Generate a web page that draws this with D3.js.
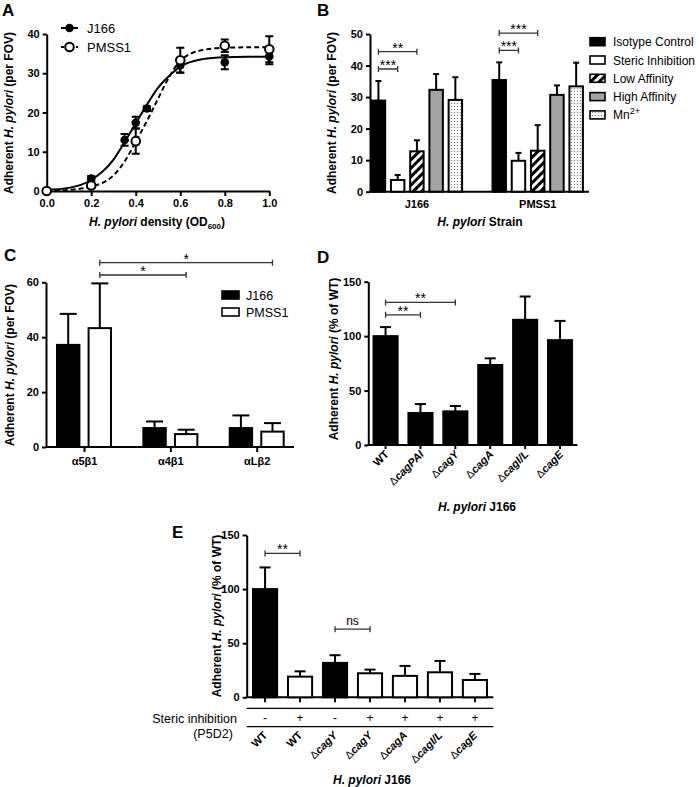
<!DOCTYPE html>
<html>
<head>
<meta charset="utf-8">
<script src="https://cdn.jsdelivr.net/npm/d3@7"></script>
<style>
  body { margin: 0; background: #fff; }
  svg { display: block; }
</style>
</head>
<body>
<svg id="fig" width="700" height="787"></svg>
<script>
// ---- panel A: adherence vs density
var odJ166 = [0, 0.2, 0.35, 0.4, 0.45, 0.6, 0.8, 1.0];
var j166Mean = [0, 3.2, 13, 17.4, 21, 32, 32.8, 34.3];
var j166Err = [0.3, 0.6, 1.5, 1.5, 0.6, 1.8, 1.8, 2];
var odPmss = [0, 0.2, 0.4, 0.6, 0.8, 1.0];
var pmssMean = [0, 1.4, 12.7, 33.3, 37, 36.1];
var pmssErr = [0.2, 0.5, 3.2, 3.2, 1.6, 3.3];
// fitted curves
var fitX = [0, 0.1, 0.2, 0.3, 0.35, 0.4, 0.45, 0.5, 0.55, 0.6, 0.7, 0.8, 0.9, 1.0];
var j166Fit = [0.3, 0.8, 2.8, 8, 12.5, 17.2, 22, 26.3, 29.3, 31.7, 33.6, 34.1, 34.2, 34.2];
var pmssFit = [0.1, 0.3, 1.1, 4, 7.5, 12.6, 17.8, 23.5, 29, 33.2, 35.9, 36.5, 36.6, 36.6];
var aTicks = [0, 0.2, 0.4, 0.6, 0.8, 1.0];

// ---- panel B: antibody treatments
var strains = ["J166", "PMSS1"];
var treatments = ["Isotype Control", "Steric Inhibition", "Low Affinity", "High Affinity", "Mn2+"];
var bJ166Mean = [28.9, 3.7, 12.8, 32.3, 29.1];
var bJ166Err = [6.2, 1.6, 3.5, 5.0, 7.2];
var bPmssMean = [35.4, 9.8, 13.0, 30.7, 33.4];
var bPmssErr = [5.6, 2.5, 8.1, 3.0, 7.5];
var bSigJ166 = [[0, 1, "***"], [0, 2, "**"]];
var bSigPmss = [[0, 1, "***"], [0, 2, "***"]];

// ---- panel C: integrins
var integrins = ["\u03b15\u03b21", "\u03b14\u03b21", "\u03b1L\u03b22"];
var cJ166Mean = [37.2, 6.9, 6.9];
var cJ166Err = [11.3, 2.4, 4.6];
var cPmssMean = [43.3, 4.7, 5.6];
var cPmssErr = [16.3, 1.6, 3.1];
var cSig = [[0, 1, "*"], [0, 2, "*"]]; // between PMSS1 bars

// ---- panel D: cag mutants
var dGenes = ["WT", "cagPAI", "cagY", "cagA", "cagI/L", "cagE"];
var dMean = [100, 29.4, 30.9, 73.5, 115, 96.3];
var dErr = [8.3, 8.2, 4.9, 6.1, 21.4, 17.7];
var dSig = [[0, 1, "**"], [0, 2, "**"]];

// ---- panel E: steric inhibition of mutants
var eGenes = ["WT", "WT", "cagY", "cagY", "cagA", "cagI/L", "cagE"];
var eSteric = ["-", "+", "-", "+", "+", "+", "+"];
var eMean = [100, 19.1, 31.8, 22.2, 19.8, 23.1, 16.0];
var eErr = [20, 4.9, 7.1, 3.4, 9.2, 10.5, 5.6];
var eSig = [[0, 1, "**"], [2, 3, "ns"]];

var font = "'Liberation Sans', Arial, Helvetica, sans-serif";
var svg = d3.select("#fig").style("font-family", font);

// patterns
var defs = svg.append("defs");
var hatch = defs.append("pattern").attr("id", "hatch").attr("patternUnits", "userSpaceOnUse")
  .attr("width", 6).attr("height", 6).attr("patternTransform", "rotate(45)");
hatch.append("rect").attr("width", 6).attr("height", 6).attr("fill", "#fff");
hatch.append("rect").attr("width", 3).attr("height", 6).attr("fill", "#000");
var dots = defs.append("pattern").attr("id", "dots").attr("patternUnits", "userSpaceOnUse")
  .attr("width", 3).attr("height", 3);
dots.append("rect").attr("width", 3).attr("height", 3).attr("fill", "#fbfbfb");
dots.append("circle").attr("cx", 1.5).attr("cy", 1.5).attr("r", 0.6).attr("fill", "#666");

var treatFill = ["#000", "#fff", "url(#hatch)", "#a3a3a3", "url(#dots)"];

function styleAxis(g) {
  g.attr("font-family", font).attr("font-size", 11).attr("font-weight", "bold");
  g.select(".domain").attr("stroke", "#000").attr("stroke-width", 2);
  g.selectAll(".tick line").attr("stroke", "#000").attr("stroke-width", 2);
  g.selectAll(".tick text").attr("fill", "#000");
}

function panelLetter(x, y, s) {
  svg.append("text").attr("x", x).attr("y", y).style("font-size", "17px")
    .style("font-weight", "bold").text(s);
}

function yTitle(x, y, tail) {
  var t = svg.append("text").attr("transform", "translate(" + x + "," + y + ") rotate(-90)")
    .attr("text-anchor", "middle").style("font-size", "12px").style("font-weight", "bold");
  t.append("tspan").text("Adherent ");
  t.append("tspan").style("font-style", "italic").text("H. pylori");
  t.append("tspan").text(" " + tail);
}

function xTitle(x, y, tail, sub) {
  var t = svg.append("text").attr("x", x).attr("y", y)
    .attr("text-anchor", "middle").style("font-size", "12px").style("font-weight", "bold");
  t.append("tspan").style("font-style", "italic").text("H. pylori");
  t.append("tspan").text(" " + tail);
  if (sub) {
    t.append("tspan").attr("dy", 3).style("font-size", "8px").text(sub);
    t.append("tspan").attr("dy", -3).text(")");
  }
}

// bars with upward error bars
function drawBars(g, xs, width, ys, means, errs, fills, capW) {
  means.forEach(function(m, i) {
    var x = xs[i];
    g.append("line").attr("x1", x).attr("x2", x).attr("y1", ys(m)).attr("y2", ys(m + errs[i]))
      .attr("stroke", "#000").attr("stroke-width", 2);
    g.append("line").attr("x1", x - capW / 2).attr("x2", x + capW / 2)
      .attr("y1", ys(m + errs[i])).attr("y2", ys(m + errs[i]))
      .attr("stroke", "#000").attr("stroke-width", 2);
    g.append("rect").attr("x", x - width / 2).attr("y", ys(m))
      .attr("width", width).attr("height", ys(0) - ys(m))
      .attr("fill", fills[i]).attr("stroke", "#000").attr("stroke-width", 2);
  });
}

// significance brackets
function drawSig(g, sig, xs, tops, ys, gap, step) {
  sig.forEach(function(s, lvl) {
    var top = d3.max(tops.slice(s[0], s[1] + 1));
    var y = ys(top) - gap - lvl * step;
    var x1 = xs[s[0]], x2 = xs[s[1]];
    g.append("path").attr("d", "M" + x1 + "," + (y - 3) + "V" + (y + 3) + "M" + x1 + "," + y +
      "H" + x2 + "M" + x2 + "," + (y - 3) + "V" + (y + 3))
      .attr("fill", "none").attr("stroke", "#333").attr("stroke-width", 1.3);
    g.append("text").attr("x", (x1 + x2) / 2).attr("y", s[2] == "ns" ? y - 4 : y + 1)
      .attr("text-anchor", "middle").style("font-size", s[2] == "ns" ? "12px" : "14px")
      .text(s[2]);
  });
}

function addTops(m, e) { return m.map(function(v, i) { return v + e[i]; }); }

// ================= Panel A
(function() {
  var x = d3.scaleLinear().domain([0, 1]).range([46.7, 269.3]);
  var y = d3.scaleLinear().domain([0, 40]).range([191, 34]);
  var g = svg.append("g");
  g.append("g").attr("transform", "translate(0," + y(0) + ")")
    .call(d3.axisBottom(x).tickValues(aTicks).tickFormat(d3.format(".1f")).tickSize(5).tickSizeOuter(0))
    .call(styleAxis);
  g.append("g").attr("transform", "translate(" + x(0) + ",0)")
    .call(d3.axisLeft(y).ticks(4).tickSize(4).tickSizeOuter(0).tickPadding(3))
    .call(styleAxis);

  var line = d3.line().x(function(d) { return x(d[0]); }).y(function(d) { return y(d[1]); })
    .curve(d3.curveMonotoneX);
  g.append("path").datum(d3.zip(fitX, j166Fit)).attr("d", line)
    .attr("fill", "none").attr("stroke", "#000").attr("stroke-width", 2);
  g.append("path").datum(d3.zip(fitX, pmssFit)).attr("d", line)
    .attr("fill", "none").attr("stroke", "#000").attr("stroke-width", 2).attr("stroke-dasharray", "5,3");

  function errs(xs, ms, es) {
    xs.forEach(function(v, i) {
      var cx = x(v);
      g.append("path").attr("d", "M" + cx + "," + y(ms[i] - es[i]) + "V" + y(ms[i] + es[i]) +
        "M" + (cx - 4) + "," + y(ms[i] - es[i]) + "H" + (cx + 4) +
        "M" + (cx - 4) + "," + y(ms[i] + es[i]) + "H" + (cx + 4))
        .attr("stroke", "#000").attr("stroke-width", 2).attr("fill", "none");
    });
  }
  errs(odJ166, j166Mean, j166Err);
  errs(odPmss, pmssMean, pmssErr);
  odJ166.forEach(function(v, i) {
    g.append("circle").attr("cx", x(v)).attr("cy", y(j166Mean[i])).attr("r", 4.3).attr("fill", "#000");
  });
  odPmss.forEach(function(v, i) {
    g.append("circle").attr("cx", x(v)).attr("cy", y(pmssMean[i])).attr("r", 4.3)
      .attr("fill", "#fff").attr("stroke", "#000").attr("stroke-width", 2);
  });

  // legend
  var lg = svg.append("g");
  [["J166", null], ["PMSS1", "5,3"]].forEach(function(d, i) {
    var ly = 28 + i * 19;
    lg.append("line").attr("x1", 61).attr("x2", 78).attr("y1", ly).attr("y2", ly)
      .attr("stroke", "#000").attr("stroke-width", 2).attr("stroke-dasharray", d[1] ? "3,2" : null);
    lg.append("circle").attr("cx", 69.5).attr("cy", ly).attr("r", 4.3)
      .attr("fill", i ? "#fff" : "#000").attr("stroke", "#000").attr("stroke-width", i ? 2 : 0);
    lg.append("text").attr("x", 87).attr("y", ly + 4.5).style("font-size", "13px").text(d[0]);
  });

  panelLetter(2, 16, "A");
  yTitle(13, 113, "(per FOV)");
  xTitle(157, 226, "density (OD", "600");
})();

// ================= Panel B
(function() {
  var y = d3.scaleLinear().domain([0, 50]).range([191.7, 34]);
  var gx = d3.scalePoint().domain(strains).range([416.9, 537.7]);
  var inner = d3.scaleBand().domain(treatments).range([-45.2, 45.2]).paddingInner(0.3);
  var g = svg.append("g");
  g.append("line").attr("x1", 369).attr("x2", 589).attr("y1", y(0)).attr("y2", y(0))
    .attr("stroke", "#000").attr("stroke-width", 2);
  g.append("g").attr("transform", "translate(370,0)")
    .call(d3.axisLeft(y).ticks(5).tickSize(4).tickSizeOuter(0).tickPadding(3))
    .call(styleAxis);
  strains.forEach(function(s, si) {
    var xs = treatments.map(function(t) { return gx(s) + inner(t) + inner.bandwidth() / 2; });
    var m = si ? bPmssMean : bJ166Mean, e = si ? bPmssErr : bJ166Err;
    drawBars(g, xs, inner.bandwidth(), y, m, e, treatFill, 6);
    drawSig(g, si ? bSigPmss : bSigJ166, xs, addTops(m, e), y, 12, 17.3);
    g.append("text").attr("x", gx(s)).attr("y", 208).attr("text-anchor", "middle")
      .style("font-size", "11px").style("font-weight", "bold").text(s);
  });

  // legend
  treatments.forEach(function(t, i) {
    var ly = 41.7 + i * 18.3;
    g.append("rect").attr("x", 590).attr("y", ly - 4).attr("width", 15).attr("height", 8)
      .attr("fill", treatFill[i]).attr("stroke", "#000").attr("stroke-width", 1.6);
    var tx = g.append("text").attr("x", 613).attr("y", ly + 4.5).style("font-size", "12px");
    if (t == "Mn2+") {
      tx.append("tspan").text("Mn");
      tx.append("tspan").attr("dy", -5).style("font-size", "9px").text("2+");
    } else tx.text(t);
  });

  panelLetter(317, 16, "B");
  yTitle(336, 113, "(per FOV)");
  xTitle(480, 226, "Strain");
})();

// ================= Panel C
(function() {
  var y = d3.scaleLinear().domain([0, 60]).range([447, 282.3]);
  var gx = d3.scalePoint().domain(integrins).range([84, 256.7]);
  var inner = d3.scaleBand().domain(strains).range([-27, 27]).paddingInner(0.29);
  var g = svg.append("g");
  var xa = g.append("g").attr("transform", "translate(0," + y(0) + ")")
    .call(d3.axisBottom(gx).tickSize(5).tickSizeOuter(0).tickPadding(5));
  xa.select(".domain").attr("d", "M46,0H294");
  xa.call(styleAxis);
  g.append("g").attr("transform", "translate(46,0)")
    .call(d3.axisLeft(y).ticks(3).tickSize(4).tickSizeOuter(0).tickPadding(3))
    .call(styleAxis);
  var bw = inner.bandwidth();
  var xsJ = integrins.map(function(c) { return gx(c) + inner("J166") + bw / 2; });
  var xsP = integrins.map(function(c) { return gx(c) + inner("PMSS1") + bw / 2; });
  drawBars(g, xsJ, bw, y, cJ166Mean, cJ166Err, ["#000", "#000", "#000"], 17);
  drawBars(g, xsP, bw, y, cPmssMean, cPmssErr, ["#fff", "#fff", "#fff"], 17);
  drawSig(g, cSig, xsP, addTops(cPmssMean, cPmssErr), y, 8.4, 12.3);

  [["J166", "#000"], ["PMSS1", "#fff"]].forEach(function(d, i) {
    var ly = 295 + i * 17;
    g.append("rect").attr("x", 222).attr("y", ly - 4).attr("width", 17).attr("height", 8)
      .attr("fill", d[1]).attr("stroke", "#000").attr("stroke-width", 1.6);
    g.append("text").attr("x", 246).attr("y", ly + 4.5).style("font-size", "12.5px").text(d[0]);
  });

  panelLetter(4, 261, "C");
  yTitle(14, 365, "(per FOV)");
})();

function geneLabel(sel, gname) {
  if (gname == "WT") { sel.text("WT"); return; }
  sel.text("");
  sel.append("tspan").style("font-weight", "normal").text("\u0394");
  sel.append("tspan").style("font-style", "italic").text(gname);
}

// ================= Panel D
(function() {
  var y = d3.scaleLinear().domain([0, 150]).range([445, 281.7]);
  var x = d3.scaleBand().domain(d3.range(dGenes.length)).range([368.3, 577.3])
    .paddingInner(0.31).paddingOuter(0.15);
  var g = svg.append("g");
  var xa = g.append("g").attr("transform", "translate(0," + y(0) + ")")
    .call(d3.axisBottom(x).tickSize(4).tickSizeOuter(0).tickFormat(""));
  xa.select(".domain").attr("d", "M367.3,0H577.3");
  xa.call(styleAxis);
  g.append("g").attr("transform", "translate(368.3,0)")
    .call(d3.axisLeft(y).tickValues([0, 50, 100, 150]).tickSize(4).tickSizeOuter(0).tickPadding(3))
    .call(styleAxis);
  var xs = dGenes.map(function(d, i) { return x(i) + x.bandwidth() / 2; });
  drawBars(g, xs, x.bandwidth(), y, dMean, dErr, dMean.map(function() { return "#000"; }), 11);
  drawSig(g, dSig, xs, addTops(dMean, dErr), y, 12.3, 12.4);
  dGenes.forEach(function(d, i) {
    var t = g.append("text").attr("transform", "translate(" + (xs[i] + 4) + "," + 455 + ") rotate(-45)")
      .attr("text-anchor", "end").style("font-size", "11px").style("font-weight", "bold");
    geneLabel(t, d);
  });
  panelLetter(317, 263, "D");
  yTitle(338, 359, "(% of WT)");
  xTitle(477, 511, "J166");
})();

// ================= Panel E
(function() {
  var y = d3.scaleLinear().domain([0, 150]).range([697.3, 535]);
  var x = d3.scaleBand().domain(d3.range(eGenes.length)).range([246.7, 493.3])
    .paddingInner(0.31).paddingOuter(0.18);
  var g = svg.append("g");
  var xa = g.append("g").attr("transform", "translate(0," + y(0) + ")")
    .call(d3.axisBottom(x).tickSize(5).tickSizeOuter(0).tickFormat(""));
  xa.select(".domain").attr("d", "M245.7,0H493.3");
  xa.call(styleAxis);
  g.append("g").attr("transform", "translate(246.7,0)")
    .call(d3.axisLeft(y).tickValues([0, 50, 100, 150]).tickSize(4).tickSizeOuter(0).tickPadding(3))
    .call(styleAxis);
  var xs = eGenes.map(function(d, i) { return x(i) + x.bandwidth() / 2; });
  var fills = eSteric.map(function(s) { return s == "-" ? "#000" : "#fff"; });
  drawBars(g, xs, x.bandwidth(), y, eMean, eErr, fills, 11);
  drawSig(g, eSig, xs, addTops(eMean, eErr), y, 14, 12);

  // steric inhibition row
  g.append("line").attr("x1", 246.7).attr("x2", 493.3).attr("y1", 708.3).attr("y2", 708.3)
    .attr("stroke", "#000").attr("stroke-width", 1.3);
  g.append("line").attr("x1", 246.7).attr("x2", 493.3).attr("y1", 726.7).attr("y2", 726.7)
    .attr("stroke", "#000").attr("stroke-width", 1.3);
  eSteric.forEach(function(s, i) {
    g.append("text").attr("x", xs[i]).attr("y", 722).attr("text-anchor", "middle")
      .style("font-size", "12px").text(s);
  });
  g.append("text").attr("x", 237).attr("y", 722.5).attr("text-anchor", "end")
    .style("font-size", "12.5px").text("Steric inhibition");
  g.append("text").attr("x", 213).attr("y", 737.5).attr("text-anchor", "middle")
    .style("font-size", "12.5px").text("(P5D2)");
  eGenes.forEach(function(d, i) {
    var t = g.append("text").attr("transform", "translate(" + (xs[i] + 3) + "," + 736 + ") rotate(-45)")
      .attr("text-anchor", "end").style("font-size", "11px").style("font-weight", "bold");
    geneLabel(t, d);
  });
  panelLetter(172, 538, "E");
  yTitle(221, 616, "(% of WT)");
  xTitle(372, 784, "J166");
})();
</script>
</body>
</html>
